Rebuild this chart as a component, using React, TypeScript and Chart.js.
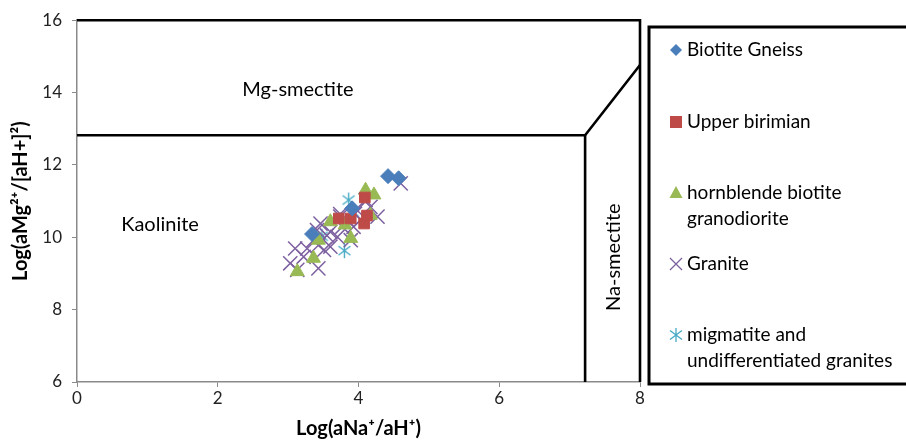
import React, { useEffect, useRef } from "react";
import { Chart, registerables } from "chart.js";

Chart.register(...registerables);

// ---- Data ----
const biotiteGneiss = [
  { x: 4.42, y: 11.69 },
  { x: 4.57, y: 11.63 },
  { x: 3.34, y: 10.09 },
  { x: 3.91, y: 10.8 },
];
const upperBirimian = [
  { x: 4.09, y: 11.1 },
  { x: 3.72, y: 10.52 },
  { x: 4.08, y: 10.38 },
  { x: 3.89, y: 10.52 },
  { x: 4.12, y: 10.6 },
];
const hornblendeBiotiteGranodiorite = [
  { x: 4.22, y: 11.17 },
  { x: 4.1, y: 11.3 },
  { x: 3.13, y: 9.05 },
  { x: 3.36, y: 9.42 },
  { x: 3.89, y: 9.97 },
  { x: 3.81, y: 10.34 },
  { x: 4.17, y: 10.61 },
  { x: 3.6, y: 10.43 },
  { x: 3.43, y: 9.92 },
];
const granite = [
  { x: 4.6, y: 11.49 },
  { x: 3.03, y: 9.28 },
  { x: 3.13, y: 9.1 },
  { x: 3.43, y: 9.14 },
  { x: 3.1, y: 9.69 },
  { x: 3.27, y: 9.69 },
  { x: 3.46, y: 10.38 },
  { x: 3.6, y: 10.15 },
  { x: 3.7, y: 10.01 },
  { x: 3.6, y: 9.74 },
  { x: 3.89, y: 9.92 },
  { x: 3.93, y: 10.29 },
  { x: 4.27, y: 10.57 },
  { x: 4.17, y: 10.84 },
  { x: 4.1, y: 11.03 },
  { x: 3.98, y: 10.75 },
  { x: 3.84, y: 10.48 },
  { x: 3.74, y: 10.57 },
  { x: 3.36, y: 9.92 },
  { x: 3.22, y: 9.46 },
  { x: 3.41, y: 10.2 },
  { x: 3.77, y: 10.29 },
  { x: 3.51, y: 9.65 },
  { x: 4.03, y: 10.48 },
  { x: 3.74, y: 10.64 },
  { x: 3.43, y: 9.78 },
  { x: 3.55, y: 10.05 },
  { x: 3.95, y: 10.65 },
];
const migmatiteGranites = [
  { x: 3.86, y: 11.03 },
  { x: 3.8, y: 9.63 },
  { x: 3.48, y: 10.03 },
  { x: 3.92, y: 10.7 },
];

// Stability-field boundaries
const frameTopRight = [
  { x: 0, y: 16 },
  { x: 8, y: 16 },
  { x: 8, y: 6 },
];
const kaoliniteBoundary = [
  { x: 0, y: 12.82 },
  { x: 7.22, y: 12.82 },
  { x: 8, y: 14.76 },
];
const naSmectiteBoundary = [
  { x: 7.22, y: 12.82 },
  { x: 7.22, y: 6 },
];

// Field labels
const fieldLabels = ["Mg-smectite", "Kaolinite", "Na-smectite"];
const fieldLabelX = [3.14, 1.18, 7.63];
const fieldLabelY = [14.09, 10.34, 9.45];

// Axes
const xTicks = [0, 2, 4, 6, 8];
const yTicks = [6, 8, 10, 12, 14, 16];
const xTitle = "Log(aNa\u207A/aH\u207A)";
const yTitle = "Log(aMg\u00B2\u207A/[aH+]\u00B2)";

// Series names
const seriesNames = [
  "Biotite Gneiss",
  "Upper birimian",
  "hornblende biotite granodiorite",
  "Granite",
  "migmatite and undifferentiated granites",
];
const legendLines = [
  ["Biotite Gneiss"],
  ["Upper birimian"],
  ["hornblende biotite", "granodiorite"],
  ["Granite"],
  ["migmatite and", "undifferentiated granites"],
];

const BLUE = "#4A7EBB";
const RED = "#BE4B48";
const GREEN = "#98B954";
const PURPLE = "#7D60A0";
const CYAN = "#46AAC5";
const FONT = "Lato, 'Open Sans', sans-serif";

function makeAsterisk(r: number, color: string, lw: number) {
  const c = document.createElement("canvas");
  const s = Math.ceil(2 * r + 2);
  c.width = s;
  c.height = s;
  const g = c.getContext("2d")!;
  g.strokeStyle = color;
  g.lineWidth = lw;
  const cx = s / 2;
  const cy = s / 2;
  g.beginPath();
  g.moveTo(cx, cy - r);
  g.lineTo(cx, cy + r);
  const d = r * 0.8;
  g.moveTo(cx - d, cy - d * 0.75);
  g.lineTo(cx + d, cy + d * 0.75);
  g.moveTo(cx + d, cy - d * 0.75);
  g.lineTo(cx - d, cy + d * 0.75);
  g.stroke();
  return c;
}

function drawLegendMarker(ctx: CanvasRenderingContext2D, idx: number, x: number, y: number) {
  ctx.save();
  switch (idx) {
    case 0: {
      const r = 6;
      ctx.fillStyle = BLUE;
      ctx.beginPath();
      ctx.moveTo(x, y - r);
      ctx.lineTo(x + r, y);
      ctx.lineTo(x, y + r);
      ctx.lineTo(x - r, y);
      ctx.closePath();
      ctx.fill();
      break;
    }
    case 1: {
      ctx.fillStyle = RED;
      ctx.fillRect(x - 6, y - 6, 12, 12);
      break;
    }
    case 2: {
      ctx.fillStyle = GREEN;
      ctx.beginPath();
      ctx.moveTo(x, y - 7);
      ctx.lineTo(x + 6.5, y + 5);
      ctx.lineTo(x - 6.5, y + 5);
      ctx.closePath();
      ctx.fill();
      break;
    }
    case 3: {
      ctx.strokeStyle = PURPLE;
      ctx.lineWidth = 1.3;
      ctx.beginPath();
      ctx.moveTo(x - 6, y - 6);
      ctx.lineTo(x + 6, y + 6);
      ctx.moveTo(x + 6, y - 6);
      ctx.lineTo(x - 6, y + 6);
      ctx.stroke();
      break;
    }
    case 4: {
      ctx.strokeStyle = CYAN;
      ctx.lineWidth = 1.3;
      ctx.beginPath();
      ctx.moveTo(x, y - 7);
      ctx.lineTo(x, y + 7);
      ctx.moveTo(x - 6, y - 4.5);
      ctx.lineTo(x + 6, y + 4.5);
      ctx.moveTo(x + 6, y - 4.5);
      ctx.lineTo(x - 6, y + 4.5);
      ctx.stroke();
      break;
    }
  }
  ctx.restore();
}

const legendRowY = [50, 122, 193, 264, 335];

const overlayPlugin = {
  id: "overlay",
  afterDatasetsDraw(chart: any) {
    const ctx: CanvasRenderingContext2D = chart.ctx;
    const xs = chart.scales.x;
    const ys = chart.scales.y;
    ctx.save();
    // field labels
    ctx.fillStyle = "#000";
    ctx.font = `20px ${FONT}`;
    ctx.textBaseline = "middle";
    ctx.textAlign = "center";
    fieldLabels.forEach((t, i) => {
      const px = xs.getPixelForValue(fieldLabelX[i]);
      const py = ys.getPixelForValue(fieldLabelY[i]);
      if (i === 2) {
        ctx.save();
        ctx.translate(px, py);
        ctx.rotate(-Math.PI / 2);
        ctx.fillText(t, 0, 0);
        ctx.restore();
      } else {
        ctx.fillText(t, px, py);
      }
    });
    ctx.restore();
  },
  afterDraw(chart: any) {
    const ctx: CanvasRenderingContext2D = chart.ctx;
    ctx.save();
    // legend box
    ctx.strokeStyle = "#000";
    ctx.lineWidth = 3;
    ctx.strokeRect(649, 27, 300, 357);
    ctx.fillStyle = "#000";
    ctx.font = `19px ${FONT}`;
    ctx.textBaseline = "middle";
    ctx.textAlign = "left";
    legendLines.forEach((lines, i) => {
      const y0 = legendRowY[i];
      drawLegendMarker(ctx, i, 676, y0);
      lines.forEach((ln, j) => {
        ctx.fillText(ln, 687, y0 + j * 26);
      });
    });
    ctx.restore();
  },
};

export default function App() {
  const ref = useRef<HTMLCanvasElement | null>(null);

  useEffect(() => {
    const canvas = ref.current;
    if (!canvas) return;
    const asterisk = makeAsterisk(7.5, CYAN, 1.4);
    const lineDs = (data: any[]) => ({
      type: "line" as const,
      label: "",
      data,
      borderColor: "#000",
      borderWidth: 2.6,
      pointRadius: 0,
      showLine: true,
      fill: false,
      clip: false as any,
      tension: 0,
    });
    const chart = new Chart(canvas, {
      type: "scatter",
      data: {
        datasets: [
          lineDs(frameTopRight),
          lineDs(kaoliniteBoundary),
          lineDs(naSmectiteBoundary),
          {
            label: seriesNames[0],
            data: biotiteGneiss,
            pointStyle: "rectRot",
            pointRadius: 7.5,
            backgroundColor: BLUE,
            borderColor: BLUE,
            borderWidth: 1,
          },
          {
            label: seriesNames[1],
            data: upperBirimian,
            pointStyle: "rect",
            pointRadius: 7.5,
            backgroundColor: RED,
            borderColor: RED,
            borderWidth: 1,
          },
          {
            label: seriesNames[2],
            data: hornblendeBiotiteGranodiorite,
            pointStyle: "triangle",
            pointRadius: 8,
            backgroundColor: GREEN,
            borderColor: GREEN,
            borderWidth: 1,
          },
          {
            label: seriesNames[3],
            data: granite,
            pointStyle: "crossRot",
            pointRadius: 10,
            backgroundColor: PURPLE,
            borderColor: PURPLE,
            borderWidth: 1.5,
          },
          {
            label: seriesNames[4],
            data: migmatiteGranites,
            pointStyle: asterisk as any,
            pointRadius: 8,
            backgroundColor: CYAN,
            borderColor: CYAN,
          },
        ] as any,
      },
      options: {
        animation: false,
        responsive: false,
        events: [],
        layout: { padding: { top: 20, right: 266, left: 0, bottom: 0 } },
        plugins: {
          legend: { display: false },
          tooltip: { enabled: false },
        },
        scales: {
          x: {
            type: "linear",
            min: 0,
            max: 8,
            afterBuildTicks: (s: any) => {
              s.ticks = xTicks.map((v) => ({ value: v }));
            },
            afterFit: (s: any) => {
              s.height = 59;
            },
            ticks: {
              color: "#222",
              font: { family: FONT, size: 17 },
              padding: 1,
            },
            grid: {
              display: true,
              drawOnChartArea: false,
              drawTicks: true,
              tickLength: 5,
              color: "#8a8a8a",
            },
            border: { display: true, color: "#8a8a8a", width: 1.5 },
            title: {
              display: true,
              text: xTitle,
              color: "#000",
              font: { family: FONT, size: 20, weight: "bold" },
              padding: { top: 2, bottom: 0 },
            },
          },
          y: {
            type: "linear",
            min: 6,
            max: 16,
            afterBuildTicks: (s: any) => {
              s.ticks = yTicks.map((v) => ({ value: v }));
            },
            afterFit: (s: any) => {
              s.width = 77;
            },
            ticks: {
              color: "#222",
              font: { family: FONT, size: 17 },
              padding: 10,
            },
            grid: {
              display: true,
              drawOnChartArea: false,
              drawTicks: true,
              tickLength: 5,
              color: "#8a8a8a",
            },
            border: { display: true, color: "#8a8a8a", width: 1.5 },
            title: {
              display: true,
              text: yTitle,
              color: "#000",
              font: { family: FONT, size: 20, weight: "bold" },
              padding: { top: 9, bottom: 2 },
            },
          },
        },
      } as any,
      plugins: [overlayPlugin],
    });
    return () => chart.destroy();
  }, []);

  return (
    <div style={{ position: "fixed", left: 0, top: 0, width: 906, height: 441, background: "#fff" }}>
      <canvas ref={ref} width={906} height={441} style={{ display: "block" }} />
    </div>
  );
}
